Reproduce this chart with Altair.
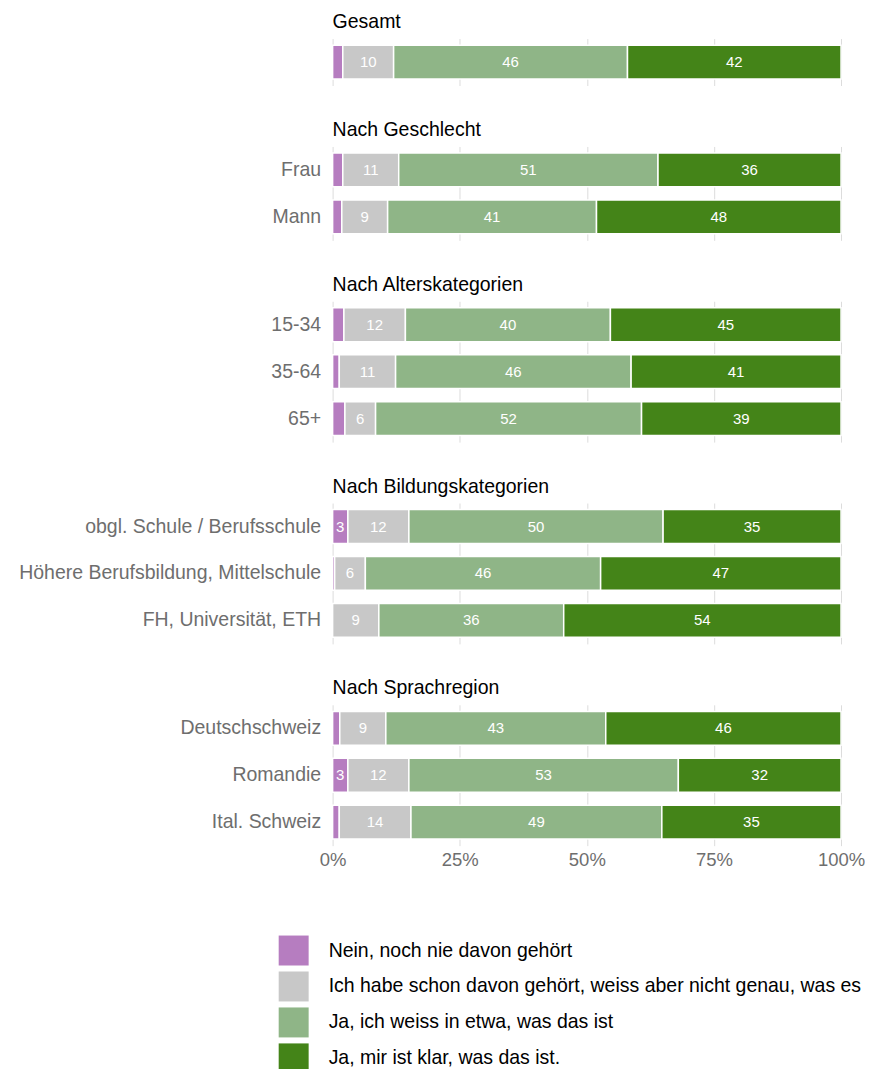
import altair as alt
import pandas as pd

answers = [
    "Nein, noch nie davon gehört",
    "Ich habe schon davon gehört, weiss aber nicht genau, was es ist",
    "Ja, ich weiss in etwa, was das ist",
    "Ja, mir ist klar, was das ist.",
]
# the reference shows the second legend entry cut off at the right edge
legend_shown = [
    "Nein, noch nie davon gehört",
    "Ich habe schon davon gehört, weiss aber nicht genau, was es",
    "Ja, ich weiss in etwa, was das ist",
    "Ja, mir ist klar, was das ist.",
]
colors = ["#b67dc0", "#c8c8c8", "#8fb587", "#448418"]

panels = ["Gesamt", "Nach Geschlecht", "Nach Alterskategorien",
          "Nach Bildungskategorien", "Nach Sprachregion"]
panel_cats = [
    ["Gesamt"],
    ["Frau", "Mann"],
    ["15-34", "35-64", "65+"],
    ["obgl. Schule / Berufsschule", "Höhere Berufsbildung, Mittelschule", "FH, Universität, ETH"],
    ["Deutschschweiz", "Romandie", "Ital. Schweiz"],
]

nein =       [2.0, 2.0, 1.8, 2.2, 1.3, 2.4, 3.0, 0.4, 0.0, 1.4, 3.0, 1.3]
gehoert =    [10, 11, 9, 12, 11, 6, 12, 6, 9, 9, 12, 14]
in_etwa =    [46, 51, 41, 40, 46, 52, 50, 46, 36, 43, 53, 49]
klar =       [42, 36, 48, 45, 41, 39, 35, 47, 54, 46, 32, 35]

rows = []
i = 0
for p, cats in zip(panels, panel_cats):
    for c in cats:
        for k, vals in enumerate([nein, gehoert, in_etwa, klar]):
            rows.append({"panel": p, "cat": c, "answer": answers[k], "order": k, "value": vals[i]})
        i += 1
df = pd.DataFrame(rows)

label_expr = " : ".join(
    [f"datum.label == '{a}' ? '{s}'" for a, s in zip(answers, legend_shown)] + ["datum.label"]
)

color = alt.Color("answer:N", scale=alt.Scale(domain=answers, range=colors),
                  legend=alt.Legend(title=None, labelExpr=label_expr))


def make_panel(p, cats, last):
    base = (
        alt.Chart(df)
        .transform_filter(alt.datum.panel == p)
        .transform_stack(stack="value", groupby=["cat"], as_=["v0", "v1"],
                         offset="normalize", sort=[alt.SortField("order", "ascending")])
    )
    y = alt.Y("cat:N", sort=cats, title=None,
              scale=alt.Scale(paddingInner=0.28, paddingOuter=0.14),
              axis=alt.Axis(labels=(p != "Gesamt"), ticks=False, domain=False,
                            labelFontSize=19.5, labelColor="#6e6e6e", labelPadding=12,
                            labelLimit=400))
    if last:
        xaxis = alt.Axis(format="%", values=[0, 0.25, 0.5, 0.75, 1], ticks=False, domain=False,
                         labelFontSize=18.5, labelColor="#6e6e6e", labelPadding=5,
                         labelFlush=False, grid=True, gridColor="#dcdcdc", title=None)
    else:
        xaxis = alt.Axis(labels=False, values=[0, 0.25, 0.5, 0.75, 1], ticks=False, domain=False,
                         grid=True, gridColor="#dcdcdc", title=None)
    bars = base.mark_bar(stroke="white", strokeWidth=1.5).encode(
        y=y,
        x=alt.X("v0:Q", scale=alt.Scale(domain=[0, 1]), axis=xaxis),
        x2="v1:Q",
        color=color,
    )
    labels = base.transform_filter(alt.datum.value >= 2.5).transform_calculate(
        mid="(datum.v0 + datum.v1) / 2", lab="format(round(datum.value), 'd')"
    ).mark_text(color="white", fontSize=15).encode(
        y=alt.Y("cat:N", sort=cats),
        x=alt.X("mid:Q"),
        text="lab:N",
    )
    return alt.layer(bars, labels).properties(
        width=509,
        height={"step": 47},
        title=alt.TitleParams(p, anchor="start", frame="group", fontSize=19.5,
                              fontWeight="normal", color="#000000", offset=6),
    )


charts = [make_panel(p, c, idx == len(panels) - 1) for idx, (p, c) in enumerate(zip(panels, panel_cats))]

chart = alt.vconcat(*charts, spacing=34).properties(
    padding={"left": 10, "top": 3, "right": 0, "bottom": 0}
).configure(
    font="Liberation Sans"
).configure_view(stroke=None).configure_legend(
    orient="none", legendX=-54, legendY=898, symbolType="square", symbolSize=900,
    symbolStrokeWidth=0, labelFontSize=19.5, labelOffset=20, rowPadding=6,
    labelLimit=1000, labelColor="#000000", symbolOpacity=1,
)

chart.save("out.html", embed_options={"renderer": "svg", "actions": False})
